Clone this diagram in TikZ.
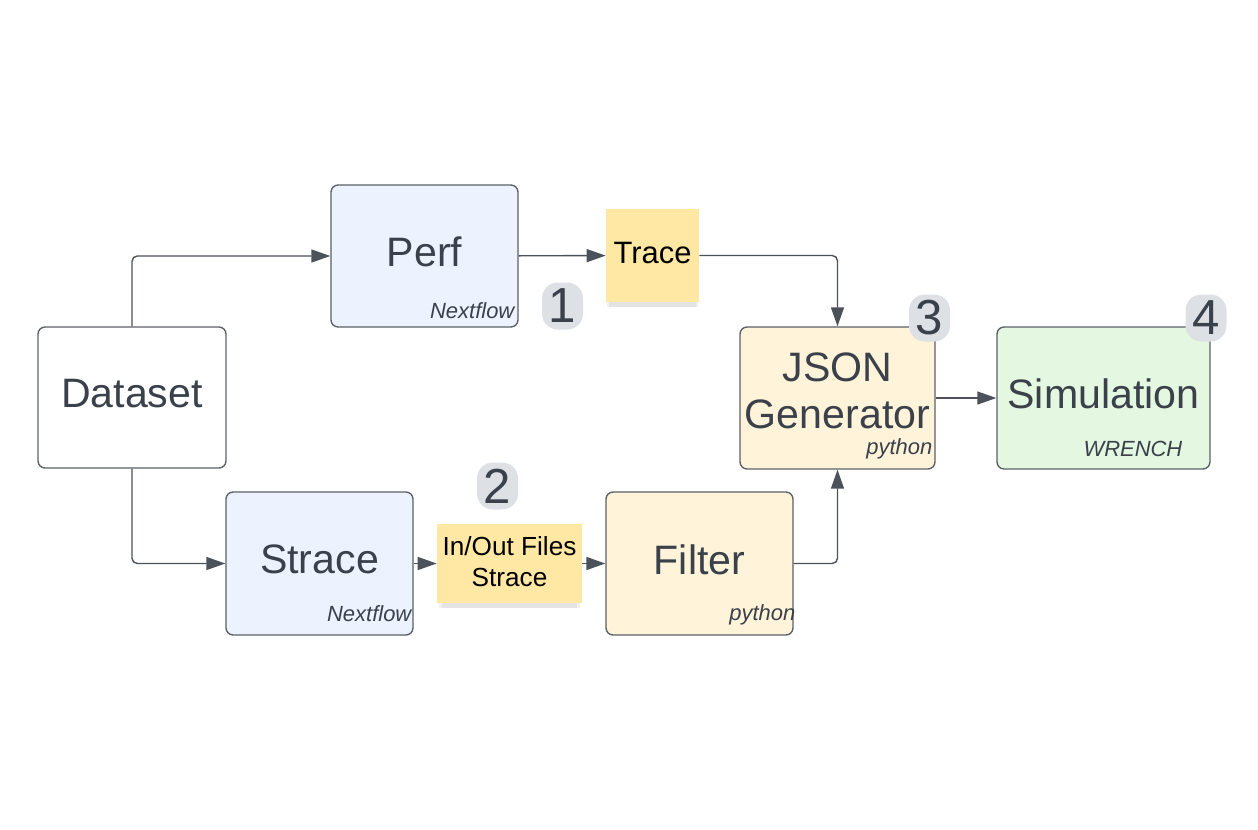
\documentclass[tikz,border=0pt]{standalone}
\usepackage{fontspec}
\setmainfont{Liberation Sans}
\usetikzlibrary{arrows.meta,shadows}

\definecolor{ink}{HTML}{3A414A}
\definecolor{edge}{HTML}{5B6169}
\definecolor{wire}{HTML}{4C525A}
\definecolor{perfblue}{HTML}{EDF3FE}
\definecolor{pyyellow}{HTML}{FFF3DA}
\definecolor{simgreen}{HTML}{E3F7E1}
\definecolor{sticky}{HTML}{FFE8A3}
\definecolor{badgegray}{HTML}{DDE1E6}

\tikzset{
  box/.style={draw=edge, line width=0.8pt, rounded corners=4pt, inner sep=0pt,
    text=ink, text depth=4.5pt, align=center,
    font=\fontsize{23.4}{26.6}\selectfont},
  note/.style={fill=sticky, inner sep=0pt, text=black, align=center,
    drop shadow={shadow xshift=0pt, shadow yshift=-5pt, shadow scale=0.93, opacity=0.1},
    drop shadow={shadow xshift=0pt, shadow yshift=-3.5pt, shadow scale=0.97, opacity=0.12}},
  tool/.style={anchor=base east, inner sep=0pt, text=ink,
    font=\fontsize{12.5}{15}\selectfont\itshape},
  badge/.style={fill=badgegray, rounded corners=9pt, minimum width=0.82cm,
    minimum height=0.94cm, inner sep=0pt, text=ink,
    font=\fontsize{28}{30}\selectfont},
  flow/.style={draw=wire, line width=0.8pt, rounded corners=3pt, ->},
}

\begin{document}
\begin{tikzpicture}[x=0.02cm, y=-0.02cm, >={Triangle[length=0.38cm,width=0.26cm]}]
\useasboundingbox (0,0) rectangle (1258,829);

% main boxes
\path (132,397.5) node[box, fill=white, minimum width=3.76cm, minimum height=2.82cm] (data) {Dataset};
\path (424.5,256) node[box, fill=perfblue, minimum width=3.74cm, minimum height=2.84cm] (perf) {Perf};
\path (319.5,563.5) node[box, fill=perfblue, minimum width=3.74cm, minimum height=2.86cm] (strace) {Strace};
\path (699.5,563.5) node[box, fill=pyyellow, minimum width=3.74cm, minimum height=2.86cm] (filter) {Filter};
\path (837.5,398) node[box, fill=pyyellow, minimum width=3.9cm, minimum height=2.84cm, text depth=8pt] (json) {JSON\\Generator};
\path (1103.5,398) node[box, fill=simgreen, minimum width=4.26cm, minimum height=2.84cm] (sim) {Simulation};

% tools
\path ([shift={(-4,-9)}]perf.south east) node[tool] (perftool) {Nextflow};
\path ([shift={(-2,-14)}]strace.south east) node[tool] (stracetool) {Nextflow};
\path ([shift={(2,-15)}]filter.south east) node[tool] (filtertool) {python};
\path ([shift={(-3,-15)}]json.south east) node[tool] (jsontool) {python};
\path ([shift={(-28,-13)}]sim.south east) node[tool] (simtool) {WRENCH};

% sticky notes
\path (652.5,255.5) node[note, minimum width=1.86cm, minimum height=1.86cm,
  text depth=3pt, font=\fontsize{17.6}{20}\selectfont] (trace) {Trace};
\path (509.5,563.5) node[note, minimum width=2.9cm, minimum height=1.58cm,
  text depth=2pt, font=\fontsize{14.9}{17.6}\selectfont] (files) {In/Out Files\\Strace};

% connectors
\draw[flow] (data.north) |- (perf.west);
\draw[flow] (data.south) |- (strace.west);
\draw[flow] (perf) -- (trace);
\draw[flow] (trace.east) -| (json.north);
\draw[flow] (strace) -- (files);
\draw[flow] (files) -- (filter);
\draw[flow] (filter.east) -| (json.south);
\draw[flow] (json.east) -- (sim.west);

% step numbers
\path (562.5,306) node[badge] (one) {1};
\path (497.5,486) node[badge] (two) {2};
\path (929.5,318) node[badge] (three) {3};
\path (1206,318) node[badge] (four) {4};
\end{tikzpicture}
\end{document}
